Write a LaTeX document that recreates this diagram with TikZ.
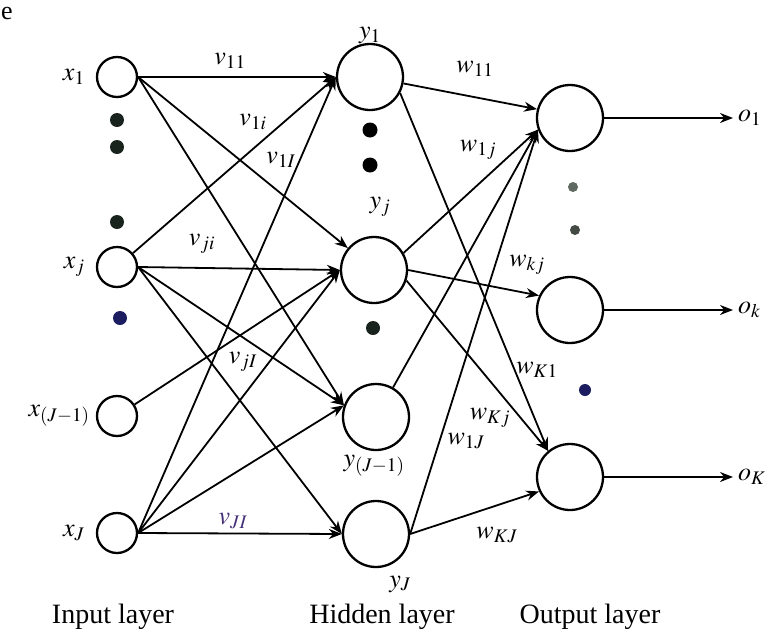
\documentclass[tikz,border=0pt]{standalone}
\usepackage{mathptmx}
\usepackage[no-math]{fontspec}
\setmainfont{Liberation Serif}
\usetikzlibrary{arrows.meta,positioning}

\definecolor{dotnavy}{RGB}{28,28,96}
\definecolor{dotdark}{RGB}{25,35,30}
\definecolor{dotgrey}{RGB}{95,105,95}
\definecolor{lblpurple}{RGB}{70,50,120}

\begin{document}
\begin{tikzpicture}[x=1pt, y=-1pt,
  inp/.style={draw, circle, line width=2.3pt, minimum size=40pt, inner sep=0pt},
  hid/.style={draw, circle, line width=2.3pt, minimum size=66pt, inner sep=0pt},
  arr/.style={->, >={Stealth[length=13pt,width=10pt]}, line width=1.8pt},
  lbl/.style={font=\fontsize{26}{30}\selectfont, inner sep=1pt},
  layername/.style={font=\fontsize{28}{32}\selectfont}
]
  \useasboundingbox (0,0) rectangle (774,635);

  % neurons
  \node[inp] (x1)  at (117,77)  {};
  \node[inp] (xj)  at (117,267) {};
  \node[inp] (xJm) at (117,416) {};
  \node[inp] (xJ)  at (117,533) {};

  \node[hid] (y1)  at (370,77)  {};
  \node[hid] (yj)  at (374,270) {};
  \node[hid] (yJm) at (376,417) {};
  \node[hid] (yJ)  at (376,534) {};

  \node[hid] (o1)  at (570,118) {};
  \node[hid] (ok)  at (570,310) {};
  \node[hid] (oK)  at (570,477) {};

  \coordinate (e1) at (733,118);
  \coordinate (ek) at (733,310);
  \coordinate (eK) at (733,477);

  % input -> hidden
  \draw[arr] (x1.east) -- (y1.west);
  \draw[arr] (x1.east) -- (yj.140);
  \draw[arr] (x1.east) -- (yJm.160);
  \draw[arr] (xj) -- (y1.west);
  \draw[arr] (xj.east) -- (yj.west);
  \draw[arr] (xj.east) -- (yJm.160);
  \draw[arr] (xj.east) -- (yJ.west);
  \draw[arr] (xJm) -- (yj.west);
  \draw[arr] (xJ.east) -- (y1.west);
  \draw[arr] (xJ.east) -- (yj.west);
  \draw[arr] (xJ.east) -- (yJm.160);
  \draw[arr] (xJ.east) -- (yJ.west);

  % hidden -> output
  \draw[arr] (y1) -- (o1.165);
  \draw[arr] (y1.-28) -- (oK.130);
  \draw[arr] (yj.30) -- (o1.200);
  \draw[arr] (yj.east) -- (ok.155);
  \draw[arr] (yj.-18) -- (oK.130);
  \draw[arr] (yJm.60) -- (o1.200);
  \draw[arr] (yJ.east) -- (o1.200);
  \draw[arr] (yJ.east) -- (oK.205);

  % outputs
  \draw[arr] (o1) -- (e1);
  \draw[arr] (ok) -- (ek);
  \draw[arr] (oK) -- (eK);

  % dots
  \fill[dotdark] (117,120) circle (7);
  \fill[dotdark] (117,147) circle (7);
  \fill[dotdark] (117,222) circle (7);
  \fill[dotnavy] (120,318) circle (7);
  \fill[black]   (370,130) circle (7.5);
  \fill[black]   (370,165) circle (7.5);
  \fill[dotdark] (373,328) circle (7);
  \fill[dotgrey] (573,187) circle (5);
  \fill[dotgrey!70!black] (575,230) circle (5);
  \fill[dotnavy] (585,390) circle (6);

  % neuron labels
  \node[lbl, left=10pt of x1]  (lx1)  {$x_1$};
  \node[lbl, left=10pt of xj]  (lxj)  {$x_j$};
  \node[lbl, left=5pt of xJm]  (lxJm) {$x_{(J-1)}$};
  \node[lbl, left=10pt of xJ]  (lxJ)  {$x_J$};
  \node[lbl, above=-2pt of y1] (ly1)  {$y_1$};
  \node[lbl] (lyj)  at (380,207) {$y_j$};
  \node[lbl] (lyJm) at (374,466) {$y_{(J-1)}$};
  \node[lbl] (lyJ)  at (400,584) {$y_J$};
  \node[lbl, right=4pt of e1] (lo1) {$o_1$};
  \node[lbl, right=4pt of ek] (lok) {$o_k$};
  \node[lbl, right=4pt of eK] (loK) {$o_K$};

  % weight labels
  \node[lbl] (lv11) at (230,61)  {$v_{11}$};
  \node[lbl] (lv1i) at (253,122) {$v_{1i}$};
  \node[lbl] (lv1I) at (281,160) {$v_{1I}$};
  \node[lbl] (lvji) at (202,244) {$v_{ji}$};
  \node[lbl] (lvjI) at (243,362) {$v_{jI}$};
  \node[lbl, text=lblpurple] (lvJI) at (233,521) {$v_{JI}$};
  \node[lbl] (lw11) at (475,69)  {$w_{11}$};
  \node[lbl] (lw1j) at (478,150) {$w_{1j}$};
  \node[lbl] (lwkj) at (527,265) {$w_{kj}$};
  \node[lbl] (lwK1) at (537,370) {$w_{K1}$};
  \node[lbl] (lwKj) at (490,418) {$w_{Kj}$};
  \node[lbl] (lw1J) at (466,441) {$w_{1J}$};
  \node[lbl] (lwKJ) at (497,535) {$w_{KJ}$};

  % layer names
  \node[layername] (nin)  at (113,617) {Input layer};
  \node[layername] (nhid) at (382,617) {Hidden layer};
  \node[layername] (nout) at (590,617) {Output layer};

  \node[lbl, inner sep=0pt] (pe) at (7,13) {e};
\end{tikzpicture}
\end{document}
